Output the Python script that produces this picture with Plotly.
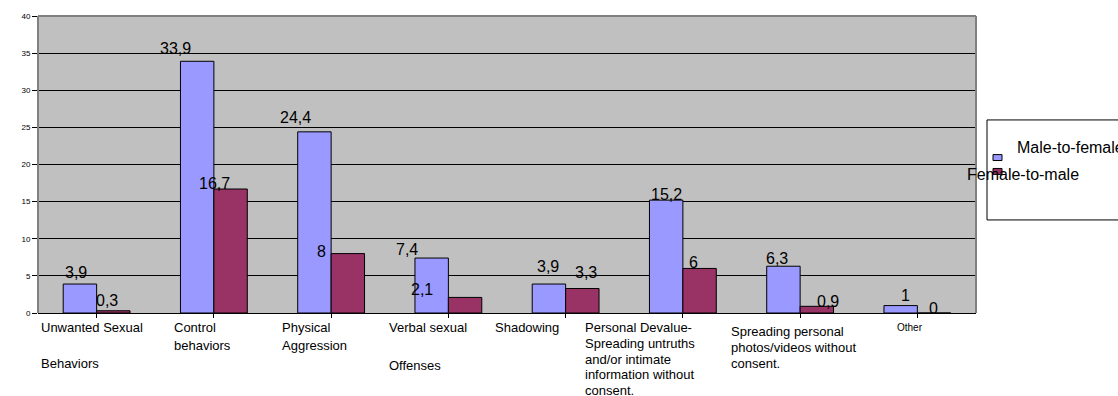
import plotly.graph_objects as go

# Survey data: share (%) of reported behaviours by direction of the abuse
categories = [
    "Unwanted Sexual Behaviors",
    "Control behaviors",
    "Physical Aggression",
    "Verbal sexual Offenses",
    "Shadowing",
    "Personal Devalue-Spreading untruths and/or intimate information without consent.",
    "Spreading personal photos/videos without consent.",
    "Other",
]
male_to_female = [3.9, 33.9, 24.4, 7.4, 3.9, 15.2, 6.3, 1]
female_to_male = [0.3, 16.7, 8, 2.1, 3.3, 6, 0.9, 0]

# Category label lines as they wrap under the axis ("" keeps an empty line)
tick_lines = [
    ["Unwanted Sexual", "", "Behaviors"],
    ["Control", "behaviors"],
    ["Physical", "Aggression"],
    ["Verbal sexual", "", "Offenses"],
    ["Shadowing"],
    ["Personal Devalue-", "Spreading untruths", "and/or intimate",
     "information without", "consent."],
    ["Spreading personal", "photos/videos without", "consent."],
    ["Other"],
]
series_names = ["Male-to-female", "Female-to-male"]
y_ticks = [0, 5, 10, 15, 20, 25, 30, 35, 40]

BLUE = "#9999FF"
WINE = "#993366"
FONT = "Liberation Sans, Arial, sans-serif"

# Plot-area geometry in page pixels
W, H = 1118, 396
L, R, T, B = 38, 976, 13, 313
PW, PH = R - L, B - T


def px_x(px):
    return (px - L) / PW


def px_y(py):
    return (B - py) / PH


fig = go.Figure()
fig.add_trace(go.Bar(x=list(range(len(categories))), y=male_to_female,
                     name=series_names[0], marker_color=BLUE,
                     marker_line=dict(color="black", width=1)))
fig.add_trace(go.Bar(x=list(range(len(categories))), y=female_to_male,
                     name=series_names[1], marker_color=WINE,
                     marker_line=dict(color="black", width=1)))

BARGAP = 0.43
half_bar = (PW / len(categories)) * (1 - BARGAP) / 4  # offset of each bar centre

# Value label placement (x shift, rise above bar top), in pixels
blue_off = [(-4, 12), (-22, 13), (-19, 14), (-25, 9), (-1, 18), (0, 6), (-6, 8), (5, 10)]
red_off = [(-6, 10), (-16, 6), (-26, 2), (-43, 8), (4, 16), (-6, 6), (11, 5), (-1, 5)]

annotations = []


def fmt(v):
    s = ("%g" % v).replace(".", ",")
    return s


for i, (vb, vr) in enumerate(zip(male_to_female, female_to_male)):
    for v, sign, (dx, dy) in ((vb, -1, blue_off[i]), (vr, 1, red_off[i])):
        annotations.append(dict(
            x=i, y=v, xref="x", yref="y", text=fmt(v), showarrow=False,
            xshift=sign * half_bar + dx, yshift=dy, xanchor="center",
            yanchor="middle", font=dict(family=FONT, size=16, color="black")))

# Category labels under the axis
label_left = [39, 172, 280, 387, 493, 583, 729, 910]
label_top = [328, 328, 328, 328, 328, 328, 332, 328]
label_pitch = [18, 18, 18, 19, 16, 15.75, 16, 16]
for i, lines in enumerate(tick_lines):
    small = categories[i] == "Other"
    for j, line in enumerate(lines):
        if not line:
            continue
        annotations.append(dict(
            x=px_x(label_left[i]), y=px_y(label_top[i] + j * label_pitch[i]),
            xref="paper", yref="paper", text=line, showarrow=False,
            xanchor="center" if small else "left", yanchor="middle",
            font=dict(family=FONT, size=10 if small else 13, color="black")))

# Legend box drawn by hand
shapes = [
    dict(type="rect", xref="paper", yref="paper",
         x0=px_x(987), x1=px_x(1130), y0=px_y(219), y1=px_y(118),
         line=dict(color="black", width=1), fillcolor="white", layer="above"),
    dict(type="rect", xref="paper", yref="paper",
         x0=px_x(993), x1=px_x(1002), y0=px_y(159), y1=px_y(153),
         line=dict(color="black", width=1), fillcolor=BLUE, layer="above"),
    dict(type="rect", xref="paper", yref="paper",
         x0=px_x(993), x1=px_x(1002), y0=px_y(173), y1=px_y(167),
         line=dict(color="black", width=1), fillcolor=WINE, layer="above"),
    # grey frame of the plot area (left, top, right)
    dict(type="line", xref="paper", yref="paper", x0=0, x1=0, y0=0, y1=1,
         line=dict(color="#808080", width=2), layer="above"),
    dict(type="line", xref="paper", yref="paper", x0=0, x1=1, y0=1, y1=1,
         line=dict(color="#808080", width=2), layer="above"),
    dict(type="line", xref="paper", yref="paper", x0=1, x1=1, y0=0, y1=1,
         line=dict(color="#808080", width=2), layer="above"),
]
annotations.append(dict(x=px_x(1015), y=px_y(146), xref="paper", yref="paper",
                        text=series_names[0], showarrow=False, xanchor="left",
                        yanchor="middle",
                        font=dict(family=FONT, size=16, color="black")))
annotations.append(dict(x=px_x(965), y=px_y(173), xref="paper", yref="paper",
                        text=series_names[1], showarrow=False, xanchor="left",
                        yanchor="middle",
                        font=dict(family=FONT, size=16, color="black")))

fig.update_layout(
    width=W, height=H,
    margin=dict(l=L, r=W - R, t=T, b=H - B, pad=0),
    paper_bgcolor="white", plot_bgcolor="#C0C0C0",
    barmode="group", bargap=BARGAP, bargroupgap=0,
    showlegend=False,
    font=dict(family=FONT, color="black"),
    annotations=annotations, shapes=shapes,
)
fig.update_xaxes(range=[-0.5, len(categories) - 0.5], tickmode="array",
                 tickvals=list(range(len(categories))), showticklabels=False,
                 tickson="boundaries", ticks="outside", ticklen=4,
                 tickcolor="black", showline=True, linecolor="black",
                 linewidth=1, showgrid=False, zeroline=False)
fig.update_yaxes(range=[0, 40], tickmode="array", tickvals=y_ticks,
                 ticks="outside", ticklen=5, tickcolor="black",
                 tickfont=dict(family=FONT, size=8, color="black"),
                 showgrid=True, gridcolor="black", gridwidth=1,
                 zeroline=False, showline=False)

fig.write_html("out.html")
